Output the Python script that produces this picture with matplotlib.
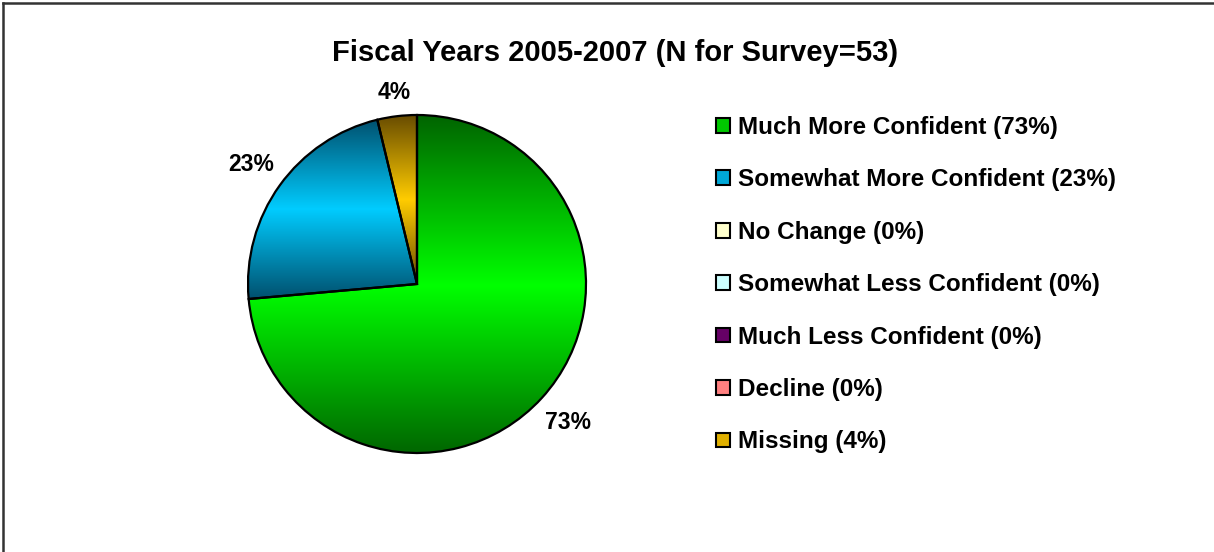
import numpy as np
import matplotlib
matplotlib.use("Agg")
import matplotlib.pyplot as plt
from matplotlib.patches import Patch
from matplotlib.lines import Line2D
from matplotlib.colors import LinearSegmentedColormap

plt.rcParams['font.family'] = ['Liberation Sans', 'DejaVu Sans']
plt.rcParams['font.weight'] = 'bold'

title = "Fiscal Years 2005-2007 (N for Survey=53)"
categories = ["Much More Confident", "Somewhat More Confident", "No Change",
              "Somewhat Less Confident", "Much Less Confident", "Decline", "Missing"]
counts = [39, 12, 0, 0, 0, 0, 2]
pct_labels = ["73%", "23%", "0%", "0%", "0%", "0%", "4%"]

# style (bright, dark) per category
bright = ["#00ff00", "#00ccff", "#ffffcc", "#ccffff", "#660066", "#ff8080", "#ffcc00"]
dark = ["#006400", "#00506e", "#ffffcc", "#ccffff", "#660066", "#ff8080", "#684c00"]
legend_colors = ["#00c800", "#00a8d8", "#ffffcc", "#ccffff", "#660066", "#ff8080", "#e0b000"]
label_dist = [1.21, 1.21, 1.2, 1.2, 1.2, 1.2, 1.14]

W, H = 1214, 552
fig = plt.figure(figsize=(W / 100, H / 100), dpi=100)
fig.patch.set_facecolor("white")

# frame (top & left visible)
fig.add_artist(Line2D([3 / W, 1.0], [1 - 3 / H, 1 - 3 / H], color="#333333", lw=1.8,
                      transform=fig.transFigure))
fig.add_artist(Line2D([3 / W, 3 / W], [0, 1 - 3 / H], color="#333333", lw=1.8,
                      transform=fig.transFigure))

cx, cy, r = 417, 284, 169
ax = fig.add_axes([(cx - r) / W, (H - cy - r) / H, 2 * r / W, 2 * r / H])

nz = [i for i, v in enumerate(counts) if v > 0]
vals = [counts[i] for i in nz]
wedges, _ = ax.pie(vals, startangle=90, counterclock=False, radius=1,
                   wedgeprops=dict(edgecolor="black", linewidth=1.6))
ax.set_xlim(-1, 1)
ax.set_ylim(-1, 1)
ax.set_aspect("equal")
ax.axis("off")

for w, i in zip(wedges, nz):
    verts = w.get_path().vertices
    trans = w.get_patch_transform()
    pts = trans.transform(verts)
    x0, x1 = pts[:, 0].min(), pts[:, 0].max()
    y0, y1 = pts[:, 1].min(), pts[:, 1].max()
    cmap = LinearSegmentedColormap.from_list("g", [dark[i], bright[i], dark[i]])
    grad = np.linspace(0, 1, 256).reshape(-1, 1)
    im = ax.imshow(grad, extent=[x0, x1, y0, y1], cmap=cmap, aspect="auto",
                   origin="upper", zorder=w.get_zorder() - 0.1, interpolation="bilinear")
    im.set_clip_path(w)
    w.set_facecolor("none")
    ang = np.deg2rad((w.theta1 + w.theta2) / 2)
    d = label_dist[i]
    ax.text(d * np.cos(ang), d * np.sin(ang), pct_labels[i], ha="center", va="center",
            fontsize=16.5, fontweight="bold", clip_on=False)

fig.text(615 / W, 1 - 53 / H, title, ha="center", va="center", fontsize=21,
         fontweight="bold")

handles = [Patch(facecolor=c, edgecolor="black", linewidth=1.5) for c in legend_colors]
labels = [f"{c} ({p})" for c, p in zip(categories, pct_labels)]
fig.legend(handles, labels, loc="upper left", bbox_to_anchor=(716 / W, 1 - 116 / H),
           frameon=False, borderpad=0, borderaxespad=0,
           handlelength=0.58, handleheight=0.55, handletextpad=0.33, labelspacing=1.21,
           prop=dict(weight="bold", size=17.5))

fig.savefig("out.png", dpi=100)
